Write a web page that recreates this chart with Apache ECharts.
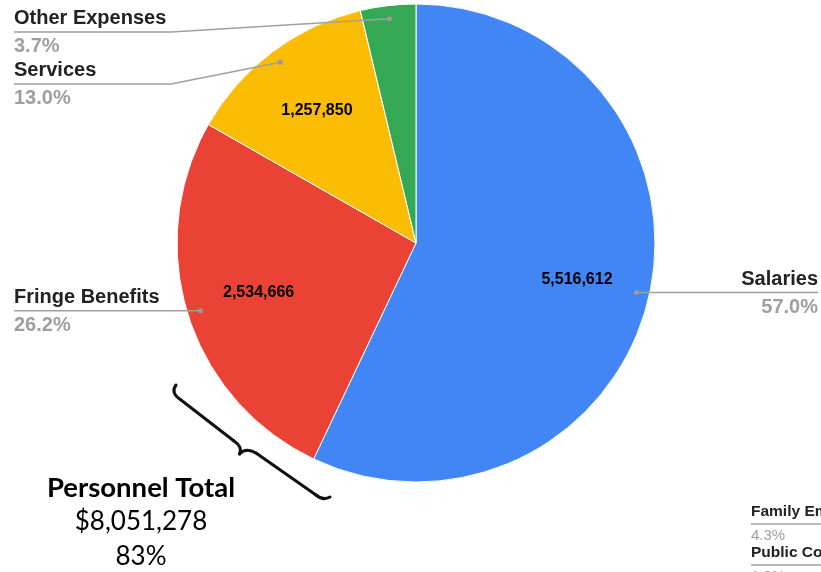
<!DOCTYPE html>
<html>
<head>
<meta charset="utf-8">
<script src="https://cdn.jsdelivr.net/npm/echarts@6/dist/echarts.min.js"></script>
<style>
  html, body { margin: 0; padding: 0; background: #fff; }
  #chart { width: 821px; height: 572px; }
</style>
</head>
<body>
<div id="chart"></div>
<script>
// Budget split by expense type
const categories = ['Salaries', 'Fringe Benefits', 'Services', 'Other Expenses'];
const amounts = [5516612, 2534666, 1257850, 362000];
const sliceColors = ['#4285f4', '#ea4335', '#fbbc04', '#34a853'];

// Personnel subtotal callout
const personnelTitle = 'Personnel Total';
const personnelAmount = '$8,051,278';
const personnelShare = '83%';

// Legend entries of the neighbouring chart, cut off at the right edge
const sideCategories = ['Family Em', 'Public Co'];
const sideShares = ['4.3%', '1.0%'];

const CX = 416, CY = 243, R = 239;
const total = amounts.reduce((a, b) => a + b, 0);

// mid angle of every slice, clockwise from 12 o'clock
const midAngles = [];
let acc = 0;
amounts.forEach(v => { midAngles.push((acc + v / 2) / total * 2 * Math.PI); acc += v; });
function pointAt(i, k) {
  const a = midAngles[i];
  return [CX + k * R * Math.sin(a), CY - k * R * Math.cos(a)];
}

// height at which each leader line levels off (null: stay level with its anchor)
const leaderY = [null, null, 84, 32];
const ANCHOR_K = 0.945;
const LEFT_EDGE = 14, RIGHT_EDGE = 818;

function leader(i) {
  const dot = pointAt(i, ANCHOR_K);
  const left = dot[0] < CX;
  const y = leaderY[i] == null ? dot[1] : leaderY[i];
  const endX = left ? LEFT_EDGE : RIGHT_EDGE;
  const elbowX = left ? Math.min(dot[0], 171) : Math.max(dot[0], 660);
  return { dot, left, y, endX, points: [dot, [elbowX, y], [endX, y]] };
}

const sansFont = '"Liberation Sans", Arial, sans-serif';
const calloutFont = 'Lato, "Open Sans", sans-serif';

const chart = echarts.init(document.getElementById('chart'), null, { renderer: 'canvas' });

const graphic = [];
// leader lines with their anchor dots, drawn over the slices
amounts.forEach((v, i) => {
  const L = leader(i);
  graphic.push({ type: 'polyline', shape: { points: L.points }, style: { stroke: '#a0a0a0', lineWidth: 1.5, fill: null }, z: 100 });
  graphic.push({ type: 'circle', shape: { cx: L.dot[0], cy: L.dot[1], r: 2.5 }, style: { fill: '#9a9a9a' }, z: 101 });
});
// curly brace grouping the personnel slices
const braceStyle = { stroke: '#111', lineWidth: 3, fill: null, lineCap: 'round', lineJoin: 'round' };
[
  ['q', 176, 385, 170, 393, 181, 400],
  ['l', 181, 400, 234, 441],
  ['q', 234, 441, 243, 447, 239.5, 454],
  ['q', 239.5, 454, 246, 447, 256, 453],
  ['l', 256, 453, 316, 495],
  ['q', 316, 495, 323, 501, 330, 497]
].forEach(s => {
  if (s[0] === 'l') {
    graphic.push({ type: 'line', shape: { x1: s[1], y1: s[2], x2: s[3], y2: s[4] }, style: braceStyle, z: 100 });
  } else {
    graphic.push({ type: 'bezierCurve', shape: { x1: s[1], y1: s[2], cpx1: s[3], cpy1: s[4], x2: s[5], y2: s[6] }, style: braceStyle, z: 100 });
  }
});
// personnel callout text
[[personnelTitle, 'bold 27.5px ' + calloutFont, 488.5], [personnelAmount, '26px ' + calloutFont, 522], [personnelShare, '26px ' + calloutFont, 557]]
  .forEach(([t, f, y]) => {
    graphic.push({ type: 'text', x: 141, y: y, style: { text: t, font: f, fill: '#000', align: 'center', verticalAlign: 'middle', textAlign: 'center', textVerticalAlign: 'middle' }, z: 100 });
  });
// cut-off legend entries at the bottom right
sideCategories.forEach((name, i) => {
  const base = 512 + i * 41;
  graphic.push({ type: 'text', x: 751, y: base, style: { text: name, font: 'bold 15.5px ' + sansFont, fill: '#222', align: 'left', verticalAlign: 'middle', textAlign: 'left', textVerticalAlign: 'middle' } });
  graphic.push({ type: 'line', shape: { x1: 751, y1: base + 12, x2: 821, y2: base + 12 }, style: { stroke: '#a0a0a0', lineWidth: 1.5 } });
  graphic.push({ type: 'text', x: 751, y: base + 23.5, style: { text: sideShares[i], font: '15px ' + sansFont, fill: '#9e9e9e', align: 'left', verticalAlign: 'middle', textAlign: 'left', textVerticalAlign: 'middle' } });
});

chart.setOption({
  backgroundColor: '#fff',
  animation: false,
  color: sliceColors,
  graphic: graphic,
  series: [
    {
      type: 'pie',
      center: [CX, CY],
      radius: [0, R],
      startAngle: 90,
      clockwise: true,
      avoidLabelOverlap: false,
      silent: true,
      itemStyle: { borderColor: '#fff', borderWidth: 1 },
      data: amounts.map((v, i) => ({ value: v, name: categories[i] })),
      label: {
        show: true,
        position: 'outside',
        formatter: p => `{n|${p.name}}\n{p|${(p.value / total * 100).toFixed(1)}%}`,
        rich: {
          n: { fontSize: 20, fontWeight: 'bold', color: '#222', lineHeight: 28, fontFamily: sansFont },
          p: { fontSize: 20, fontWeight: 'bold', color: '#9e9e9e', lineHeight: 28, fontFamily: sansFont }
        }
      },
      labelLine: { show: false },
      labelLayout: function (p) {
        const L = leader(p.dataIndex);
        return { x: L.endX, y: L.y + 0.5, align: L.left ? 'left' : 'right', verticalAlign: 'middle' };
      }
    },
    {
      // value labels inside the slices
      type: 'pie',
      center: [CX, CY],
      radius: [85, R],
      startAngle: 90,
      clockwise: true,
      silent: true,
      itemStyle: { color: 'rgba(0,0,0,0)', borderWidth: 0 },
      emphasis: { disabled: true },
      data: amounts.map((v, i) => ({ value: v, name: categories[i], label: { show: i < 3 } })),
      label: {
        position: 'inside',
        formatter: p => p.value.toLocaleString('en-US'),
        fontSize: 16, fontWeight: 'bold', color: '#000', fontFamily: sansFont
      },
      labelLine: { show: false }
    }
  ]
});
</script>
</body>
</html>
